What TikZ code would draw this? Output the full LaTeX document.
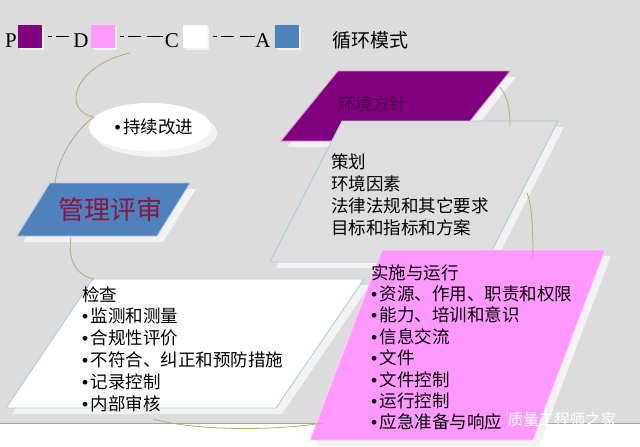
\documentclass[tikz,border=0pt]{standalone}
\usepackage{fontspec}
\setmainfont{Liberation Serif}
\newfontfamily\cjk{Noto Sans CJK SC}
\newfontfamily\bulletfont{Liberation Sans}
\usetikzlibrary{positioning, shadows, shapes.geometric}
\definecolor{bggray}{RGB}{220,220,220}
\definecolor{myviolet}{RGB}{128,0,128}
\definecolor{mydarkviolet}{RGB}{72,12,72}
\definecolor{mypink}{RGB}{255,153,255}
\definecolor{myblue}{RGB}{79,129,189}
\definecolor{myedge}{RGB}{160,205,225}
\definecolor{myline}{RGB}{185,170,110}
\definecolor{mymaroon}{RGB}{140,20,70}
\definecolor{myshade}{RGB}{242,242,242}
\newcommand{\bul}{{\bulletfont •}\kern2.5pt}

\begin{document}
\begin{tikzpicture}[x=1pt,y=-1pt,
    every node/.style={inner sep=0pt,font=\cjk\fontsize{17.5}{21.8}\selectfont},
    box/.style={drop shadow={shadow xshift=6pt,shadow yshift=-6pt,fill=myshade,opacity=1},line width=0.8pt},
    loop/.style={draw=myline,line width=0.8pt},
    legbox/.style={minimum size=23.5pt,drop shadow={shadow xshift=2pt,shadow yshift=-2pt,fill=myshade,opacity=1}},
    legletter/.style={anchor=base,font=\fontsize{21}{21}\selectfont},
    legdash/.style={draw,line width=1.4pt,dash pattern=on 4pt off 4pt on 13pt off 6pt on 16pt off 4pt}]
    \useasboundingbox (0,0) rectangle (640,447);
    % background
    \fill[bggray] (0,0) rectangle (640,423);
    \fill[white] (0,423) rectangle (640,447);
    \draw[gray!70,line width=0.6pt] (0,423) -- (640,423);

    % PDCA legend
    \node[legletter] (P) at (11,47) {P};
    \node[legletter] (D) at (81,47) {D};
    \node[legletter] (C) at (172,47) {C};
    \node[legletter] (A) at (263,47) {A};
    \node[legbox,fill=myviolet] (sqP) at (30,36.5) {};
    \node[legbox,fill=mypink] (sqD) at (103,36.5) {};
    \node[legbox,fill=white] (sqC) at (195,36.5) {};
    \node[legbox,fill=myblue] (sqA) at (287,36.5) {};
    \draw[legdash] ([xshift=6pt]sqP.east) -- (sqP.east -| D.west);
    \draw[legdash] ([xshift=5pt]sqD.east) -- (sqD.east -| C.west);
    \draw[legdash] ([xshift=6pt]sqC.east) -- (sqC.east -| A.west);
    \node[font=\cjk\fontsize{19}{19}\selectfont] (title) at (370,40) {循环模式};

    % plan
    \filldraw[box,fill=myviolet,draw=myviolet!40!white] (281,141) -- (338,71) -- (510,71) -- (454,141) -- cycle;
    \node[text=mydarkviolet,font=\cjk\fontsize{17}{17}\selectfont] (policy) at (372,104) {环境方针};
    \filldraw[box,fill=bggray!95!white,draw=myedge] (270,262) -- (342,121) -- (558,121) -- (486,262) -- cycle;
    \node[anchor=north west,align=left] (plan) at (331,154) {策划\\环境因素\\法律法规和其它要求\\目标和指标和方案};

    % check
    \filldraw[box,fill=white,draw=myedge] (6,408) -- (93,279) -- (364,279) -- (276,408) -- cycle;
    \node[anchor=north west,align=left] (check) at (82,286) {检查\\\bul 监测和测量\\\bul 合规性评价\\\bul 不符合、纠正和预防措施\\\bul 记录控制\\\bul 内部审核};

    % do
    \filldraw[box,fill=mypink,draw=mypink!50!white] (310,440) -- (382,250) -- (605,250) -- (533,440) -- cycle;
    \node[anchor=north west,align=left,font=\cjk\fontsize{17.5}{21.4}\selectfont] (do) at (371,264) {实施与运行\\\bul 资源、作用、职责和权限\\\bul 能力、培训和意识\\\bul 信息交流\\\bul 文件\\\bul 文件控制\\\bul 运行控制\\\bul 应急准备与响应};

    % act
    \filldraw[box,fill=myblue,draw=myblue!45!white] (17,236) -- (50,183) -- (190,183) -- (157,236) -- cycle;
    \node[text=mymaroon,font=\cjk\fontsize{26}{26}\selectfont] (review) at (110,210) {管理评审};
    \node[ellipse,fill=white,minimum width=122pt,minimum height=48pt,
          drop shadow={shadow xshift=6pt,shadow yshift=-6pt,fill=myshade,opacity=1}] (improve) at (150,127) {\hspace{8pt}\bul 持续改进};

    % cycle lines
    \coordinate (start) at (130,53);
    \coordinate (revtop) at (55,183);
    \coordinate (revbot) at (71,237);
    \coordinate (chktop) at (94,279);
    \coordinate (chkbot) at (153,419);
    \coordinate (dobot) at (323,423);
    \coordinate (polend) at (500,87);
    \coordinate (plantop) at (510,126);
    \coordinate (planend) at (527,193);
    \coordinate (dotop) at (533,258);
    \draw[loop] (start) .. controls (75,65) and (60,110) .. (improve.170);
    \draw[loop] (improve.170) .. controls (78,128) and (58,155) .. (revtop);
    \draw[loop] (revbot) .. controls (67,262) and (78,276) .. (chktop);
    \draw[loop] (chkbot) .. controls (200,432) and (280,430) .. (dobot);
    \draw[loop] (polend) .. controls (508,97) and (510,110) .. (plantop);
    \draw[loop] (planend) .. controls (532,205) and (533,230) .. (dotop);

    \node[text=white,font=\cjk\fontsize{15.5}{15.5}\selectfont] (mark) at (562,420) {质量工程师之家};
\end{tikzpicture}
\end{document}
